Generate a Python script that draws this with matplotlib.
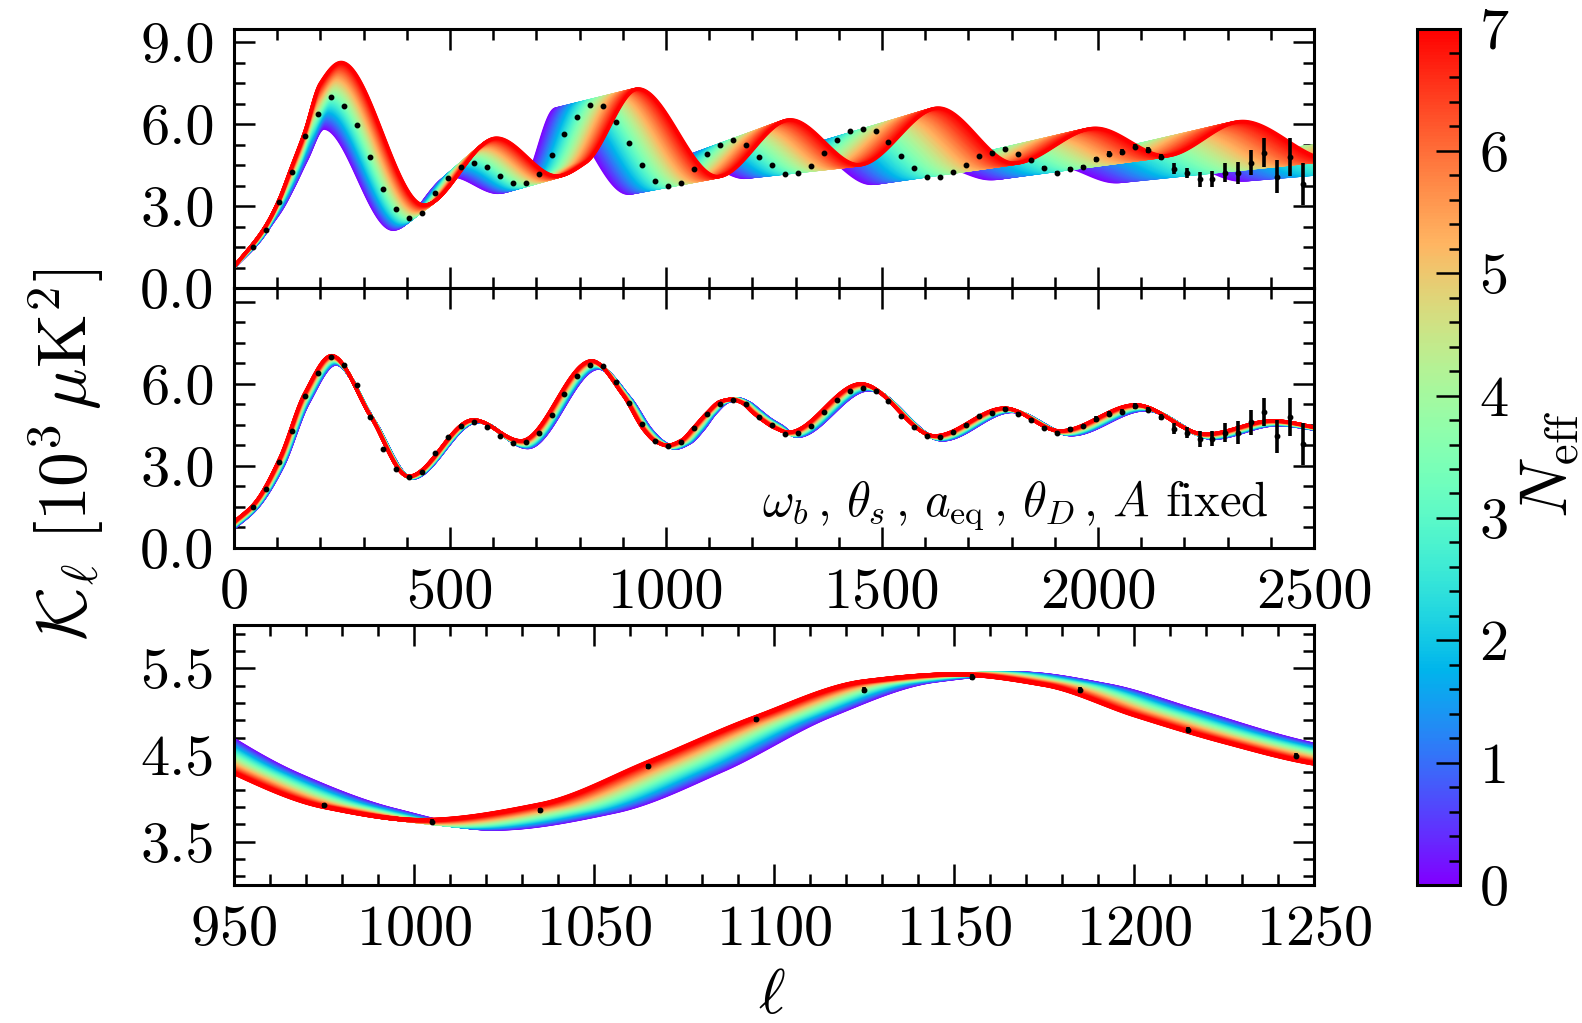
import numpy as np
import matplotlib
matplotlib.use("Agg")
import matplotlib.pyplot as plt
from matplotlib.collections import LineCollection
from matplotlib.ticker import MultipleLocator, FixedLocator, FormatStrFormatter
from matplotlib.colors import Normalize
from matplotlib.cm import ScalarMappable

plt.rcParams['font.family'] = ['cmr10']
plt.rcParams['mathtext.fontset'] = 'cm'
plt.rcParams['axes.formatter.use_mathtext'] = True

# ---------------- data ----------------
N_min, N_max = 0.0, 7.0

# Top panel: knots of the N_eff = 0 (purple) and N_eff = 7 (red) spectra
top_red_l = [0, 72, 104, 132, 164, 200, 248, 440, 608, 748, 815, 936, 1120, 1288, 1447,
             1631, 1806, 1995, 2156, 2335, 2540, 2720, 2900, 3080, 3300]
top_red_k = [0.77, 2.24, 3.22, 4.38, 5.73, 7.50, 8.26, 3.04, 5.49, 4.10, 4.60, 7.29, 4.08, 6.16, 4.51,
             6.59, 4.57, 5.85, 4.84, 6.10, 4.70, 5.60, 4.70, 5.50, 4.70]
top_pur_l = [0, 60, 87, 111, 138, 168, 208, 368, 505, 610, 672, 745, 912, 1060, 1180,
             1330, 1474, 1630, 1750, 1905, 2040, 2190, 2330, 2480, 2650]
top_pur_k = [0.77, 1.75, 2.36, 2.91, 3.71, 4.69, 5.85, 2.15, 4.10, 3.50, 3.90, 6.55, 3.47, 4.82, 4.05,
             5.15, 3.83, 4.50, 4.00, 4.50, 3.89, 4.60, 3.95, 4.50, 4.00]

# Middle / bottom panel: knots of the N_eff = 0 and N_eff = 7 spectra
mid_red_l = [0, 48, 106, 164, 226, 315, 404, 554, 664, 828, 900, 950, 975, 1002, 1035, 1065,
             1095, 1125, 1150, 1175, 1200, 1225, 1250, 1283, 1451, 1622, 1783, 1912, 2087,
             2248, 2404, 2560, 2700]
mid_red_k = [0.95, 1.64, 3.28, 5.66, 7.03, 4.85, 2.62, 4.68, 3.92, 6.84, 5.60, 4.29, 3.90, 3.75, 3.93,
             4.42, 4.94, 5.35, 5.43, 5.31, 4.96, 4.65, 4.40, 4.23, 6.00, 4.10, 5.11, 4.28, 5.23,
             4.16, 4.65, 4.30, 4.50]
mid_pur_l = [0, 52, 112, 172, 236, 326, 412, 564, 680, 844, 918, 968, 995, 1022, 1056, 1086,
             1116, 1145, 1168, 1193, 1218, 1243, 1268, 1304, 1470, 1640, 1801, 1939, 2110,
             2266, 2414, 2580, 2720]
mid_pur_k = [0.73, 1.45, 2.95, 5.30, 6.72, 4.60, 2.55, 4.62, 3.67, 6.57, 5.45, 4.27, 3.86, 3.65, 3.85,
             4.33, 4.96, 5.36, 5.44, 5.30, 5.00, 4.69, 4.45, 4.08, 5.78, 3.95, 4.99, 4.14, 5.05,
             4.01, 4.50, 4.20, 4.40]

# Binned data points
data_l = list(range(45, 2476, 30))
data_k = [1.51, 2.14, 3.16, 4.26, 5.55, 6.38, 6.98, 6.67, 5.95, 4.80, 3.62, 2.89, 2.58, 2.76,
          3.48, 4.04, 4.44, 4.59, 4.42, 4.10, 3.83, 3.86, 4.19, 4.87, 5.63, 6.27, 6.70, 6.66,
          6.06, 5.30, 4.52, 3.92, 3.73, 3.86, 4.37, 4.91, 5.25, 5.40, 5.25, 4.79, 4.49, 4.16,
          4.20, 4.47, 4.96, 5.42, 5.73, 5.83, 5.74, 5.36, 4.84, 4.41, 4.08, 4.05, 4.24, 4.49,
          4.84, 4.93, 5.08, 4.89, 4.67, 4.38, 4.20, 4.36, 4.44, 4.71, 4.91, 4.98, 5.18, 5.06,
          4.79, 4.36, 4.21, 3.98, 4.00, 4.22, 4.22, 4.59, 4.96, 4.08, 4.79, 3.81]
data_err = [0.03] * 57 + [0.07] * 8 + [0.10] * 6 + [0.20, 0.20, 0.28, 0.29, 0.34, 0.41,
                                                   0.46, 0.52, 0.61, 0.70, 0.77]

top_yticks = [0, 3, 6, 9]
mid_yticks = [0, 3, 6, 9]
mid_ylabels = ['0.0', '3.0', '6.0', '']
main_xticks = [0, 500, 1000, 1500, 2000, 2500]
zoom_xticks = [950, 1000, 1050, 1100, 1150, 1200, 1250]
zoom_yticks = [3.5, 4.5, 5.5]
cbar_ticks = [0, 1, 2, 3, 4, 5, 6, 7]
annotation = r'$\omega_b\,,\,\theta_s\,,\,a_{\rm eq}\,,\,\theta_D\,,\,A$ fixed'


def pchip(xk, yk, x):
    xk = np.asarray(xk, float)
    yk = np.asarray(yk, float)
    h = np.diff(xk)
    d = np.diff(yk) / h
    m = np.zeros_like(yk)
    for k in range(1, len(xk) - 1):
        if d[k - 1] * d[k] > 0:
            w1 = 2 * h[k] + h[k - 1]
            w2 = h[k] + 2 * h[k - 1]
            m[k] = (w1 + w2) / (w1 / d[k - 1] + w2 / d[k])
    m[0] = d[0]
    m[-1] = d[-1]
    i = np.clip(np.searchsorted(xk, x) - 1, 0, len(h) - 1)
    t = (x - xk[i]) / h[i]
    h00 = 2 * t**3 - 3 * t**2 + 1
    h10 = t**3 - 2 * t**2 + t
    h01 = -2 * t**3 + 3 * t**2
    h11 = t**3 - t**2
    return h00 * yk[i] + h10 * h[i] * m[i] + h01 * yk[i + 1] + h11 * h[i] * m[i + 1]


cmap = plt.get_cmap('rainbow')
norm = Normalize(N_min, N_max)
Ns = np.linspace(N_min, N_max, 141)


def family(ax, lp, kp, lr, kr, grid, lw=2.4):
    lp, kp, lr, kr = map(np.asarray, (lp, kp, lr, kr))
    segs = []
    for N in Ns:
        t = (N - N_min) / (N_max - N_min)
        xk = (1 - t) * lp + t * lr
        yk = (1 - t) * kp + t * kr
        segs.append(np.column_stack([grid, pchip(xk, yk, grid)]))
    lc = LineCollection(segs, colors=cmap(norm(Ns)), linewidths=lw, capstyle='round')
    ax.add_collection(lc)


W, H = 1582, 1023
fig = plt.figure(figsize=(W / 100, H / 100), dpi=100)

def frac(x0, y0, x1, y1):
    return [x0 / W, 1 - y1 / H, (x1 - x0) / W, (y1 - y0) / H]

ax1 = fig.add_axes(frac(234, 28.5, 1314, 288))
ax2 = fig.add_axes(frac(234, 288, 1314, 548))
ax3 = fig.add_axes(frac(234, 625, 1314, 885))
cax = fig.add_axes(frac(1417, 28.5, 1460, 885))

grid_main = np.linspace(0, 2500, 2001)
grid_zoom = np.linspace(950, 1250, 1201)

family(ax1, top_pur_l, top_pur_k, top_red_l, top_red_k, grid_main)
family(ax2, mid_pur_l, mid_pur_k, mid_red_l, mid_red_k, grid_main)
family(ax3, mid_pur_l, mid_pur_k, mid_red_l, mid_red_k, grid_zoom, lw=3.0)

for ax in (ax1, ax2, ax3):
    ax.errorbar(data_l, data_k, yerr=data_err, fmt='o', color='black', ms=3.2,
                elinewidth=2.6, capsize=0, zorder=5)
    for s in ax.spines.values():
        s.set_linewidth(2.2)
    ax.tick_params(which='both', direction='in', top=True, right=True, width=1.8,
                   labelsize=42, pad=14)
    ax.tick_params(which='major', length=15)
    ax.tick_params(which='minor', length=8)

for ax in (ax1, ax2):
    ax.set_xlim(0, 2500)
    ax.set_ylim(0, 9.5)
    ax.xaxis.set_major_locator(FixedLocator(main_xticks))
    ax.xaxis.set_minor_locator(MultipleLocator(100))
    ax.yaxis.set_minor_locator(MultipleLocator(0.75))

ax1.yaxis.set_major_locator(FixedLocator(top_yticks))
ax1.yaxis.set_major_formatter(FormatStrFormatter('%.1f'))
ax1.tick_params(labelbottom=False)

ax2.set_yticks(mid_yticks)
ax2.set_yticklabels(mid_ylabels)
ax2.set_xticklabels([str(v) for v in main_xticks])
ax2.text(0.958, 0.125, annotation, transform=ax2.transAxes, ha='right', va='baseline',
         fontsize=35)

ax3.set_xlim(950, 1250)
ax3.set_ylim(3.0, 6.0)
ax3.xaxis.set_major_locator(FixedLocator(zoom_xticks))
ax3.xaxis.set_minor_locator(MultipleLocator(10))
ax3.yaxis.set_major_locator(FixedLocator(zoom_yticks))
ax3.yaxis.set_minor_locator(FixedLocator(np.arange(3.1, 6.0, 0.2)))
ax3.yaxis.set_major_formatter(FormatStrFormatter('%.1f'))

sm = ScalarMappable(norm=norm, cmap=cmap)
cb = fig.colorbar(sm, cax=cax)
cb.set_ticks(cbar_ticks)
cb.set_ticklabels([str(v) for v in cbar_ticks])
cb.ax.yaxis.set_minor_locator(MultipleLocator(0.2))
cb.ax.tick_params(which='both', direction='in', right=True, left=False, width=1.8,
                  labelsize=42, pad=14)
cb.ax.tick_params(which='major', length=17)
cb.ax.tick_params(which='minor', length=8)
cb.outline.set_linewidth(2.2)

fig.text(66 / W, 1 - 455 / H, r'$\mathcal{K}_\ell\ [10^3\,\mu{\rm K}^2]$', rotation=90,
         ha='center', va='center', fontsize=50)
fig.text(772 / W, 1 - 997 / H, r'$\ell$', ha='center', va='center', fontsize=46)
fig.text(1550 / W, 1 - 464 / H, r'$N_{\rm eff}$', rotation=90, ha='center', va='center',
         fontsize=48)

fig.savefig('out.png', dpi=100)
